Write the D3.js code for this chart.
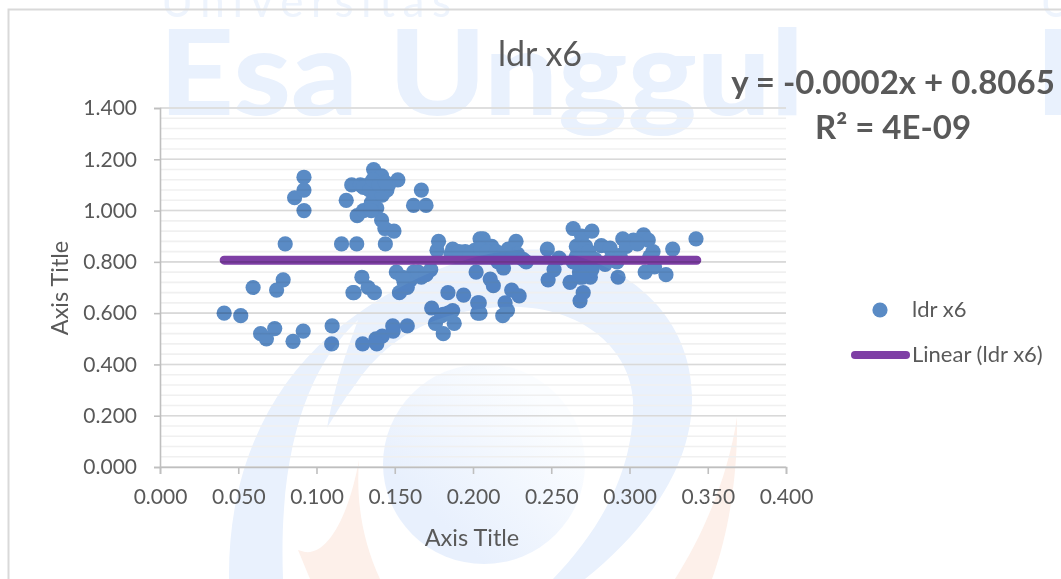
<!DOCTYPE html>
<html><head><meta charset="utf-8">
<script src="https://cdn.jsdelivr.net/npm/d3@7"></script>
<style>html,body{margin:0;padding:0;background:#fff;overflow:hidden}svg{display:block}text{font-family:Lato,"Open Sans",sans-serif}</style>
</head><body>
<svg id="c" width="1061" height="579"></svg>
<script>
const chartTitle="ldr x6", xTitle="Axis Title", yTitle="Axis Title", seriesName="ldr x6", trendName="Linear (ldr x6)";
const equation="y = -0.0002x + 0.8065", rSquared="R² = 4E-09";
const xTicks=[0,0.05,0.1,0.15,0.2,0.25,0.3,0.35,0.4];
const yTicks=[0,0.2,0.4,0.6,0.8,1.0,1.2,1.4];
const yMinor=d3.range(0,1.4001,0.04);
const trendX=[0.041,0.343];
const trendSlope=-0.0002, trendIntercept=0.8065;
const xValues=[0.041,0.0516,0.0595,0.0643,0.068,0.0733,0.0745,0.0787,0.080,0.085,0.086,0.0915,0.092,0.092,0.092,0.110,0.1097,0.116,0.119,0.1225,0.124,0.1257,0.126,0.128,0.130,0.129,0.1295,0.1233,0.133,0.133,0.137,0.1365,0.1385,0.138,0.1416,0.1416,0.142,0.1437,0.144,0.145,0.137,0.140,0.135,0.143,0.1385,0.1487,0.149,0.1495,0.151,0.152,0.153,0.158,0.158,0.162,0.162,0.167,0.167,0.170,0.173,0.1736,0.176,0.177,0.178,0.181,0.181,0.184,0.187,0.187,0.188,0.194,0.195,0.201,0.202,0.203,0.203,0.204,0.2045,0.2045,0.2065,0.211,0.211,0.212,0.213,0.216,0.219,0.2195,0.2205,0.222,0.2225,0.2247,0.2275,0.2285,0.2295,0.234,0.2475,0.248,0.2518,0.255,0.262,0.264,0.266,0.268,0.2684,0.2695,0.27,0.2704,0.272,0.275,0.275,0.276,0.282,0.2844,0.2876,0.2927,0.294,0.2957,0.3025,0.309,0.31,0.312,0.315,0.316,0.3233,0.3276,0.3425,
0.130,0.134,0.138,0.142,0.146,0.136,0.140,0.144,0.135,0.156,0.160,0.165,0.170,0.155,0.186,0.191,0.198,0.205,0.209,0.215,0.218,0.225,0.232,0.266,0.270,0.274,0.268,0.272,0.276,0.270,0.264,0.278,0.288,0.292,0.298,0.305,0.313,0.180,0.184];
const yValues=[0.60,0.59,0.70,0.52,0.50,0.54,0.69,0.73,0.87,0.49,1.05,0.53,1.13,1.08,1.00,0.55,0.48,0.87,1.04,1.10,0.68,0.87,0.98,1.10,1.00,0.74,0.48,0.68,1.10,0.70,0.68,1.16,1.01,0.50,1.135,0.963,0.51,0.93,0.87,1.08,1.06,1.09,1.03,1.10,0.48,0.55,0.53,0.92,0.76,1.12,0.68,0.70,0.55,0.76,1.02,1.08,0.74,1.02,0.77,0.62,0.56,0.845,0.88,0.595,0.52,0.68,0.85,0.61,0.56,0.67,0.84,0.845,0.76,0.64,0.60,0.64,0.60,0.89,0.89,0.733,0.82,0.86,0.707,0.80,0.59,0.776,0.64,0.61,0.85,0.69,0.88,0.83,0.667,0.80,0.85,0.73,0.77,0.815,0.72,0.93,0.86,0.76,0.648,0.90,0.78,0.68,0.86,0.74,0.79,0.92,0.863,0.79,0.854,0.74,0.825,0.89,0.885,0.905,0.76,0.885,0.84,0.78,0.75,0.85,0.89,
1.09,1.08,1.07,1.06,1.10,1.12,1.10,1.11,1.00,0.72,0.73,0.76,0.75,0.74,0.83,0.84,0.83,0.85,0.84,0.84,0.82,0.82,0.81,0.82,0.83,0.84,0.74,0.76,0.77,0.74,0.80,0.81,0.81,0.80,0.86,0.87,0.82,0.59,0.60];

const svg=d3.select("#c");
const defs=svg.append("defs");
const g1=defs.append("linearGradient").attr("id","fade").attr("x1","0").attr("y1","1").attr("x2","1").attr("y2","0");
g1.append("stop").attr("offset","0.25").attr("stop-color","#e8f0fd");
g1.append("stop").attr("offset","0.8").attr("stop-color","#fbfdff");

// watermark
const wm=svg.append("g").attr("class","watermark");
const wmBlue="#e9f1fd", wmOrange="#fdf0ea";
wm.append("text").attr("x",161).attr("y",17).attr("font-size",44).attr("fill","#eef4fd").attr("textLength",290).text("Universitas");
wm.append("text").attr("x",159).attr("y",115).attr("font-size",118).attr("font-weight",900).attr("fill",wmBlue).attr("textLength",645).attr("lengthAdjust","spacingAndGlyphs").text("Esa Unggul");
wm.append("text").attr("x",1036).attr("y",115).attr("font-size",118).attr("font-weight",900).attr("fill",wmBlue).text("E");
wm.append("text").attr("x",1040).attr("y",17).attr("font-size",44).attr("fill","#eef4fd").text("U");
wm.append("ellipse").attr("cx",484).attr("cy",464).attr("rx",101).attr("ry",100).attr("fill","url(#fade)");
wm.append("path").attr("fill",wmBlue).attr("d","M229,579 C228,480 262,395 330,335 C390,285 470,245 545,250 C620,258 690,310 692,395 C694,470 640,535 585,579 L553,579 C600,530 635,470 633,400 C630,350 585,310 520,307 C460,305 395,325 355,385 C342,402 335,415 327,428 C335,385 345,355 358,320 C310,365 278,445 283,579 Z");
wm.append("path").attr("fill",wmOrange).attr("d","M359,460 C350,510 330,555 305,552 L298,550 L310,579 L380,579 C362,540 356,500 359,460 Z");
wm.append("path").attr("fill",wmOrange).attr("d","M737,417 C728,480 700,540 675,579 L712,579 C730,530 738,470 737,417 Z");

// frame
svg.append("path").attr("d","M1061,9.5 H8.5 V579").attr("fill","none").attr("stroke","#d9d9d9").attr("stroke-width",2);

const x=d3.scaleLinear().domain([0,0.4]).range([160,786]);
const y=d3.scaleLinear().domain([0,1.4]).range([467,108]);

// gridlines
svg.append("g").selectAll("line").data(yMinor).join("line")
 .attr("x1",x(0)).attr("x2",x(0.4)).attr("y1",d=>y(d)).attr("y2",d=>y(d))
 .attr("stroke","#f0f0f0").attr("stroke-width",1.6);
svg.append("g").selectAll("line").data(yTicks).join("line")
 .attr("x1",x(0)).attr("x2",x(0.4)).attr("y1",d=>y(d)).attr("y2",d=>y(d))
 .attr("stroke","#d9d9d9").attr("stroke-width",1.6);

// axes
const ax=svg.append("g").attr("transform","translate(0,467)").call(d3.axisBottom(x).tickValues(xTicks).tickFormat(d3.format(".3f")).tickSize(7).tickPadding(15));
const ay=svg.append("g").attr("transform","translate(160,0)").call(d3.axisLeft(y).tickValues(yTicks).tickFormat(d3.format(".3f")).tickSize(6).tickPadding(17));
[ax,ay].forEach(a=>{
 a.selectAll("path").attr("stroke","#bfbfbf").attr("stroke-width",1.6);
 a.selectAll("line").attr("stroke","#bfbfbf").attr("stroke-width",1.6);
 a.selectAll("text").attr("fill","#595959").attr("font-size",21).style("font-family","Lato");
});

// points and trend: one isolated group, multiplied over the watermark
const marks=svg.append("g").style("mix-blend-mode","multiply");
marks.append("g").selectAll("circle").data(xValues.map((v,i)=>[v,yValues[i]])).join("circle")
 .attr("cx",d=>x(d[0])).attr("cy",d=>y(d[1])).attr("r",7.6)
 .attr("fill","#5a8bc5");
marks.append("line").attr("x1",x(trendX[0])).attr("x2",x(trendX[1]))
 .attr("y1",y(trendSlope*trendX[0]+trendIntercept)).attr("y2",y(trendSlope*trendX[1]+trendIntercept))
 .attr("stroke","#7e3fa5").attr("stroke-width",9).attr("stroke-linecap","round");

// titles
svg.append("text").attr("x",540).attr("y",66).attr("text-anchor","middle").attr("font-size",34).attr("fill","#595959").text(chartTitle);
svg.append("text").attr("x",472).attr("y",546).attr("text-anchor","middle").attr("font-size",23.5).attr("fill","#595959").text(xTitle);
svg.append("text").attr("transform","translate(68,288) rotate(-90)").attr("text-anchor","middle").attr("font-size",23.5).attr("fill","#595959").text(yTitle);

// equation
svg.append("text").attr("x",893).attr("y",94).attr("text-anchor","middle").attr("font-size",33).attr("font-weight",700).attr("fill","#595959").text(equation);
svg.append("text").attr("x",893).attr("y",139).attr("text-anchor","middle").attr("font-size",33).attr("font-weight",700).attr("fill","#595959").text(rSquared);

// legend
svg.append("circle").attr("cx",880).attr("cy",310).attr("r",7.6).attr("fill","#5a8bc5");
svg.append("text").attr("x",912).attr("y",317).attr("font-size",22).attr("fill","#595959").text(seriesName);
svg.append("line").attr("x1",855).attr("x2",906).attr("y1",355).attr("y2",355).attr("stroke","#7e3fa5").attr("stroke-width",8).attr("stroke-linecap","round");
svg.append("text").attr("x",912).attr("y",362).attr("font-size",22).attr("fill","#595959").text(trendName);
</script>
</body></html>
